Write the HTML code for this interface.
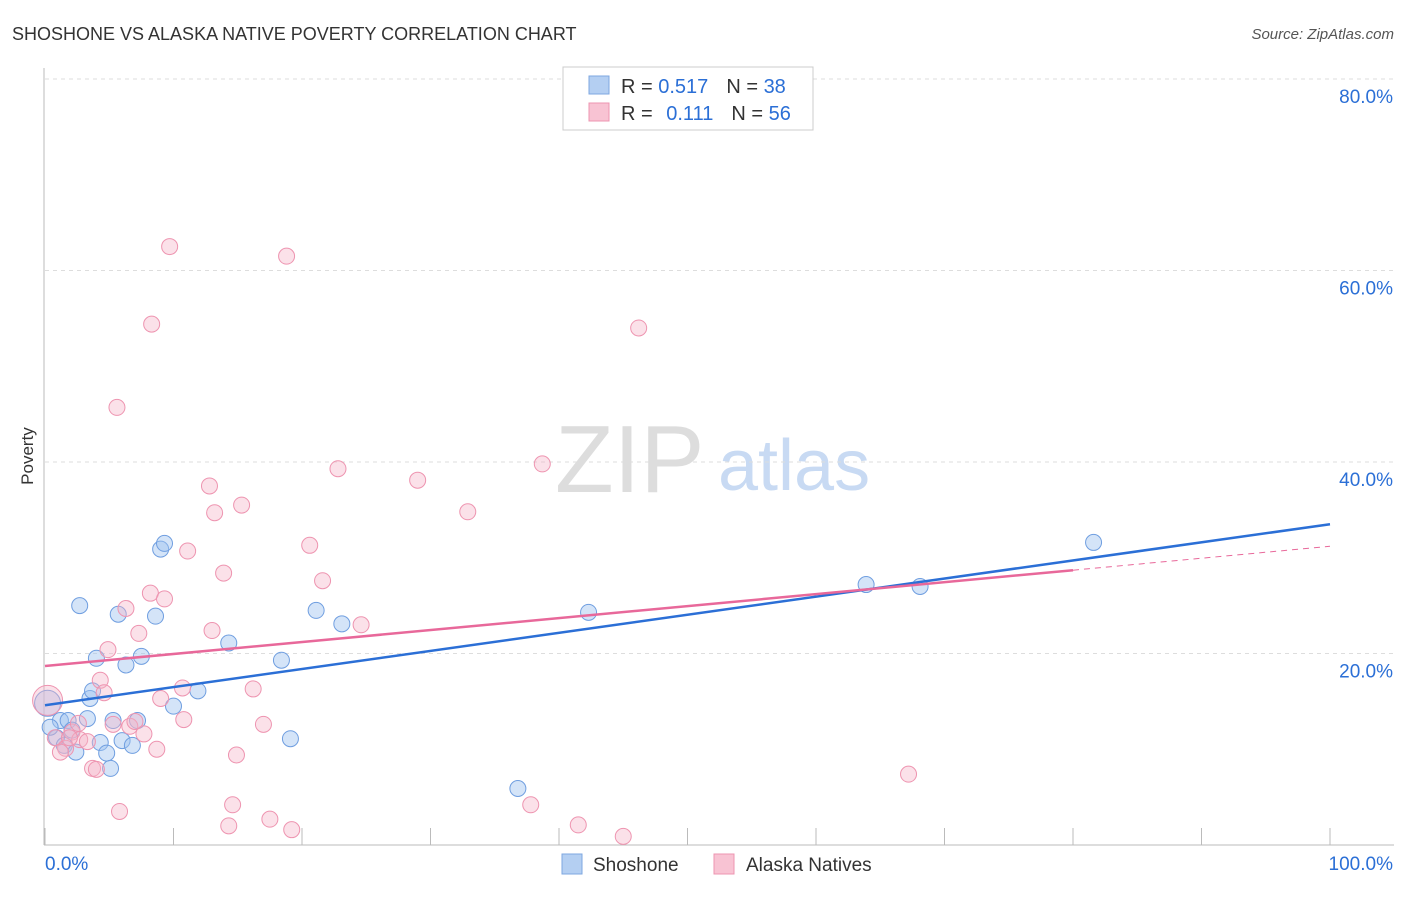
<!DOCTYPE html>
<html><head><meta charset="utf-8"><style>
body{margin:0;background:#fff;font-family:"Liberation Sans",sans-serif}
svg text{font-family:"Liberation Sans",sans-serif}
</style></head><body>
<svg id="c" width="1406" height="892" xmlns="http://www.w3.org/2000/svg">
<text x="12" y="40" font-size="18" fill="#333">SHOSHONE VS ALASKA NATIVE POVERTY CORRELATION CHART</text>
<text x="1394" y="39" font-size="15" fill="#555" font-style="italic" text-anchor="end">Source: ZipAtlas.com</text>
<text x="33" y="456" font-size="17" fill="#333" transform="rotate(-90 33 456)" text-anchor="middle">Poverty</text>
<text x="555" y="492" font-size="96" fill="#ddd" font-family="Liberation Serif">ZIP</text>
<text x="718" y="490" font-size="72" fill="#c8daf3">atlas</text>
<g id="grid"></g><g id="pts"></g><g id="lines"></g>
<g>
<rect x="563" y="67" width="250" height="63" fill="#fff" stroke="#ccc"/>
<rect x="589" y="76" width="20" height="18" fill="#b4cff2" stroke="#7ea7e0"/>
<rect x="589" y="103" width="20" height="18" fill="#f8c3d3" stroke="#ee94b0"/>
<text x="621" y="93" font-size="20" fill="#333">R = <tspan fill="#2b6fd6">0.517</tspan><tspan dx="18">N = </tspan><tspan fill="#2b6fd6">38</tspan></text>
<text x="621" y="120" font-size="20" fill="#333">R = <tspan fill="#2b6fd6" dx="8">0.111</tspan><tspan dx="18">N = </tspan><tspan fill="#2b6fd6">56</tspan></text>
</g>
<g>
<rect x="562" y="854" width="20" height="20" fill="#b4cff2" stroke="#7ea7e0"/>
<text x="593" y="871" font-size="19" fill="#333">Shoshone</text>
<rect x="714" y="854" width="20" height="20" fill="#f8c3d3" stroke="#ee94b0"/>
<text x="746" y="871" font-size="19" fill="#333">Alaska Natives</text>
</g>
</svg>
<script>
const blueX=[0.2,0.9,1.2,1.8,1.5,2.7,3.3,3.5,3.7,4.0,4.3,4.8,5.1,5.3,5.7,6.0,6.3,6.8,7.2,7.5,8.6,9.0,9.3,10.0,11.9,14.3,18.4,19.1,21.1,23.1,36.8,42.3,63.9,68.1,81.6,2.1,2.4,0.4];
const blueY=[14.8,11.2,13.0,13.0,10.4,25.0,13.2,15.3,16.1,19.5,10.7,9.6,8.0,13.0,24.1,10.9,18.8,10.4,13.0,19.7,23.9,30.9,31.5,14.5,16.1,21.1,19.3,11.1,24.5,23.1,5.9,24.3,27.2,27.0,31.6,12.0,9.7,12.3];
const pinkX=[0.2,0.8,1.6,2.1,2.7,3.3,3.7,4.0,4.3,4.6,4.9,5.3,5.6,5.8,6.3,6.6,7.3,7.7,8.2,8.3,8.7,9.0,9.3,9.7,10.7,10.8,11.1,12.8,13.0,13.2,13.9,14.3,14.6,14.9,15.3,16.2,17.0,17.5,18.8,19.2,20.6,21.6,22.8,24.6,29.0,32.9,37.8,38.7,41.5,45.0,46.2,67.2,1.9,2.6,1.2,7.0];
const pinkY=[15.1,11.2,10.1,11.8,11.0,10.8,8.0,7.9,17.2,15.9,20.4,12.6,45.7,3.5,24.7,12.4,22.1,11.6,26.3,54.4,10.0,15.3,25.7,62.5,16.4,13.1,30.7,37.5,22.4,34.7,28.4,2.0,4.2,9.4,35.5,16.3,12.6,2.7,61.5,1.6,31.3,27.6,39.3,23.0,38.1,34.8,4.2,39.8,2.1,0.9,54.0,7.4,11.2,12.7,9.7,12.9];
const blueLine=[14.6,33.5];
const pinkLine=[18.7,28.7,31.2];
const yTicks=[20,40,60,80];
const xTicks=[0,10,20,30,40,50,60,70,80,90,100];
const NS="http://www.w3.org/2000/svg";
const sx=v=>45+v*12.85, sy=v=>845-v*9.575;
function mk(t,a,p){const e=document.createElementNS(NS,t);for(const k in a)e.setAttribute(k,a[k]);p.appendChild(e);return e;}
const g=document.getElementById('grid');
yTicks.forEach(v=>{
 const l=mk('line',{x1:45,x2:1394,y1:sy(v),y2:sy(v),stroke:'#ddd','stroke-dasharray':'4 4'},g);
 
 
 const t=mk('text',{x:1393,y:sy(v)+24,'font-size':19,fill:'#2b6fd6','text-anchor':'end'},g);t.textContent=v.toFixed(1)+'%';
 
 
});
mk('line',{x1:44,x2:44,y1:68,y2:845,stroke:'#bbb'},g);
mk('line',{x1:44,x2:1394,y1:845,y2:845,stroke:'#bbb'},g);
xTicks.forEach(v=>{const l=mk('line',{x1:sx(v),x2:sx(v),y1:828,y2:845,stroke:'#bbb'},g);
 
 });
let t=mk('text',{x:45,y:870,'font-size':19,fill:'#2b6fd6'},g);t.textContent='0.0%';


t=mk('text',{x:1393,y:870,'font-size':19,fill:'#2b6fd6','text-anchor':'end'},g);t.textContent='100.0%';


const p=document.getElementById('pts');
blueX.forEach((x,i)=>{const c=mk('circle',{cx:sx(x),cy:sy(blueY[i]),r:i==0?13:8,fill:'rgba(160,195,240,0.45)',stroke:'#6f9ee0','stroke-width':1},p);
 
 });
pinkX.forEach((x,i)=>{const c=mk('circle',{cx:sx(x),cy:sy(pinkY[i]),r:i==0?15:8,fill:'rgba(246,180,200,0.4)',stroke:'#ee94b0','stroke-width':1},p);
 
 });
const L=document.getElementById('lines');
let e=mk('line',{x1:sx(0),y1:sy(blueLine[0]),x2:sx(100),y2:sy(blueLine[1]),stroke:'#2b6fd6','stroke-width':2.5},L);


e=mk('line',{x1:sx(0),y1:sy(pinkLine[0]),x2:sx(80),y2:sy(pinkLine[1]),stroke:'#e8689a','stroke-width':2.5},L);


e=mk('line',{x1:sx(80),y1:sy(pinkLine[1]),x2:sx(100),y2:sy(pinkLine[2]),stroke:'#e8689a','stroke-width':1,'stroke-dasharray':'6 5'},L);


</script>
</body></html>
